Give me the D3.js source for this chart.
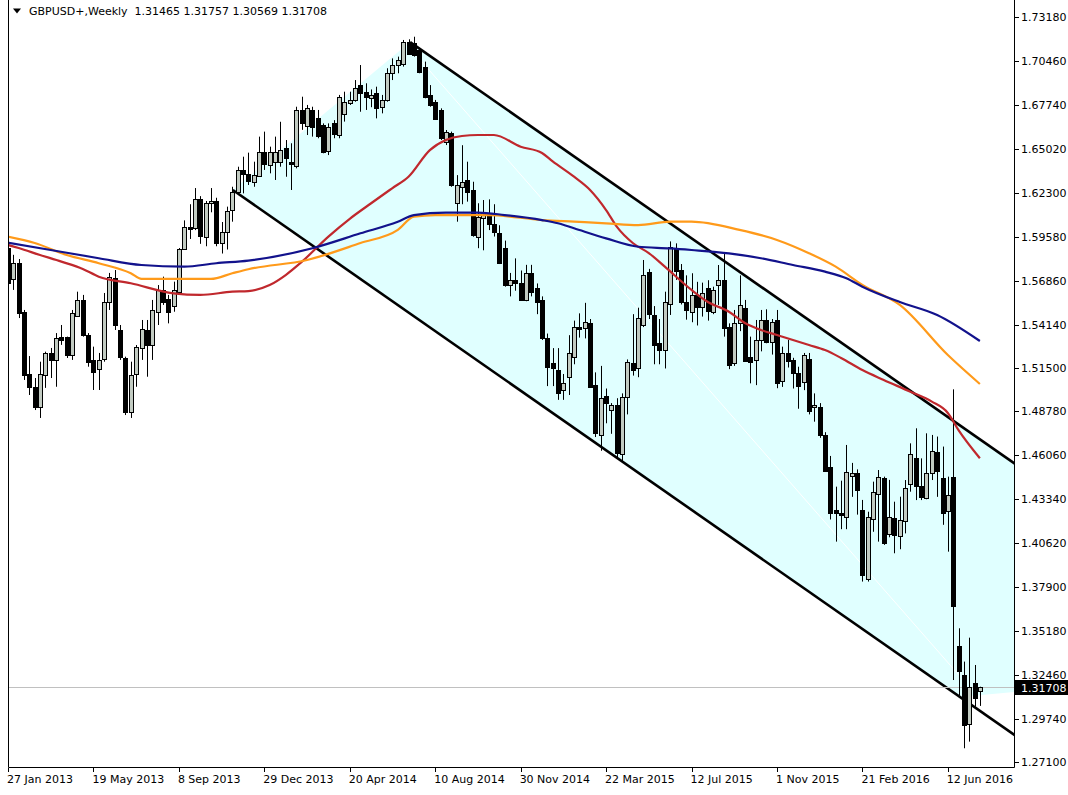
<!DOCTYPE html>
<html>
<head>
<meta charset="utf-8">
<script src="https://cdn.jsdelivr.net/npm/d3@7/dist/d3.min.js"></script>
<style>
body { margin: 0; background: #fff; }
svg { display: block; }
text { font-family: "DejaVu Sans", sans-serif; font-size: 11px; fill: #000; }
</style>
</head>
<body>
<div id="GBPUSDWeekly"></div>
<script>
const container_id = 'GBPUSDWeekly';
const width = 1068, height = 795;
const plot = { left: 8, right: 1014, top: 0, bottom: 767 };

// weekly candles, one per week from 27 Jan 2013
const opens = [1.5889,1.5697,1.5796,1.5495,1.5110,1.5032,1.4908,1.5104,1.5240,1.5197,1.5339,1.5339,1.5227,1.5470,1.5568,1.5351,1.5196,1.5142,1.5203,1.5557,1.5704,1.5382,1.5209,1.4877,1.5112,1.5271,1.5382,1.5289,1.5494,1.5630,1.5574,1.5531,1.5619,1.5885,1.6020,1.6010,1.6190,1.5960,1.6170,1.6180,1.5920,1.5990,
  1.6124,1.6237,1.6372,1.6347,1.6299,1.6335,1.6485,1.6403,1.6423,1.6423,1.6506,1.6423,1.6392,1.6740,1.6640,1.6743,1.6691,1.6650,1.6490,1.6660,1.6590,1.6722,1.6784,1.6804,1.6897,1.6856,1.6815,1.6846,1.6763,1.6804,1.6970,1.7021,1.7032,1.7165,1.7155,1.7114,1.7011,1.6836,1.6794,1.6743,1.6547,1.6599,1.6166,1.6268,1.6310,1.6248,
  1.5959,1.6075,1.6100,1.6040,1.5982,1.5889,1.5660,1.5690,1.5673,1.5568,1.5735,1.5642,1.5568,1.5330,1.5178,1.5135,1.5011,1.5094,1.5215,1.5400,1.5393,1.5425,1.5042,1.4733,1.4974,1.4887,1.4918,1.4620,1.4970,1.5180,1.5145,1.5414,1.5743,1.5475,1.5300,1.5258,1.5547,1.5887,1.5753,1.5557,
  1.5495,1.5600,1.5525,1.5640,1.5495,1.5660,1.5691,1.5403,1.5177,1.5423,1.5516,1.5217,1.5197,1.5320,1.5444,1.5310,1.5444,1.5063,1.5238,1.5196,1.5114,1.5060,1.5200,1.4904,1.4908,1.4733,1.4533,1.4269,1.4250,1.4227,1.4475,1.4496,1.4269,1.3846,1.4217,1.4372,1.4465,1.4124,1.4217,1.4108,1.4196,1.4430,1.4588,1.4417,1.4341,1.4500,1.4630,1.4465,1.4263,
  1.4475,1.3430,1.3248,1.2949,1.3197,1.31465];
const highs = [1.5905,1.5847,1.5821,1.5506,1.5221,1.5085,1.5186,1.5248,1.5271,1.5363,1.5413,1.5341,1.5506,1.5619,1.5599,1.5363,1.5279,1.5240,1.5611,1.5735,1.5753,1.5413,1.5217,1.5186,1.5289,1.5444,1.5444,1.5568,1.5660,1.5712,1.5599,1.5681,1.5889,1.6060,1.6160,1.6260,1.6210,1.6180,1.6260,1.6200,1.6050,1.6145,
  1.6268,1.6392,1.6454,1.6479,1.6423,1.6578,1.6609,1.6516,1.6578,1.6670,1.6557,1.6537,1.6763,1.6825,1.6774,1.6763,1.6743,1.6660,1.6660,1.6680,1.6836,1.6856,1.6856,1.6928,1.7021,1.6908,1.6870,1.6887,1.6836,1.7001,1.7062,1.7073,1.7176,1.7180,1.7196,1.7124,1.7042,1.6897,1.6805,1.6753,1.6619,1.6609,1.6340,1.6525,1.6423,1.6299,
  1.6166,1.6186,1.6190,1.6160,1.6030,1.5935,1.5735,1.5825,1.5750,1.5785,1.5785,1.5670,1.5590,1.5360,1.5270,1.5270,1.5110,1.5350,1.5440,1.5485,1.5550,1.5450,1.5120,1.5160,1.5020,1.4930,1.4960,1.4990,1.5200,1.5480,1.5520,1.5815,1.5760,1.5530,1.5450,1.5619,1.5930,1.5918,1.5790,1.5720,
  1.5733,1.5680,1.5675,1.5690,1.5650,1.5784,1.5861,1.5423,1.5506,1.5720,1.5568,1.5341,1.5444,1.5506,1.5510,1.5450,1.5506,1.5279,1.5321,1.5210,1.5155,1.5240,1.5240,1.4990,1.4930,1.4750,1.4603,1.4413,1.4450,1.4671,1.4560,1.4520,1.4331,1.4258,1.4444,1.4516,1.4475,1.4455,1.4320,1.4351,1.4454,1.4681,1.4774,1.4588,1.4743,1.4733,1.4723,1.4661,1.4475,
  1.5015,1.3537,1.3331,1.3479,1.3310,1.31757];
const lows = [1.5660,1.5630,1.5456,1.5073,1.4980,1.4887,1.4838,1.5024,1.5085,1.5031,1.5290,1.5209,1.5197,1.5464,1.5341,1.5155,1.5011,1.5011,1.5186,1.5506,1.5382,1.5197,1.4856,1.4838,1.5031,1.5197,1.5093,1.5197,1.5413,1.5537,1.5423,1.5495,1.5609,1.5880,1.5945,1.6000,1.5915,1.5900,1.6110,1.5900,1.5855,1.5880,
  1.6052,1.6227,1.6227,1.6279,1.6268,1.6330,1.6372,1.6351,1.6310,1.6392,1.6330,1.6248,1.6382,1.6620,1.6588,1.6578,1.6568,1.6475,1.6464,1.6568,1.6568,1.6671,1.6774,1.6794,1.6732,1.6743,1.6760,1.6691,1.6722,1.6794,1.6928,1.6970,1.7011,1.7089,1.7073,1.6970,1.6815,1.6763,1.6681,1.6557,1.6526,1.6268,1.6052,1.6160,1.6176,1.5959,
  1.5888,1.5875,1.6000,1.5960,1.5790,1.5650,1.5590,1.5625,1.5590,1.5560,1.5590,1.5480,1.5320,1.5035,1.5035,1.4950,1.4950,1.4980,1.5170,1.5335,1.5330,1.5025,1.4720,1.4635,1.4805,1.4740,1.4585,1.4565,1.4860,1.5100,1.5090,1.5400,1.5450,1.5170,1.5170,1.5144,1.5475,1.5692,1.5540,1.5446,
  1.5430,1.5410,1.5465,1.5440,1.5480,1.5537,1.5341,1.5140,1.5160,1.5375,1.5185,1.5052,1.5041,1.5250,1.5300,1.5230,1.5022,1.5030,1.5150,1.5020,1.4895,1.5010,1.4860,1.4815,1.4715,1.4505,1.4210,1.4073,1.4150,1.4150,1.4350,1.4240,1.3826,1.3826,1.4134,1.4073,1.4053,1.4100,1.4001,1.4026,1.4124,1.4382,1.4330,1.4330,1.4335,1.4454,1.4350,1.4177,1.4011,
  1.3217,1.3120,1.2795,1.2836,1.3052,1.30569];
const closes = [1.5673,1.5796,1.5489,1.5104,1.5032,1.4908,1.5110,1.5242,1.5197,1.5333,1.5318,1.5227,1.5489,1.5568,1.5351,1.5186,1.5124,1.5196,1.5557,1.5710,1.5413,1.5217,1.4877,1.5104,1.5279,1.5388,1.5289,1.5506,1.5630,1.5557,1.5495,1.5630,1.5883,1.6020,1.6010,1.6190,1.5960,1.6170,1.6180,1.5920,1.5990,1.6120,
  1.6237,1.6372,1.6347,1.6306,1.6341,1.6485,1.6413,1.6485,1.6485,1.6495,1.6444,1.6413,1.6740,1.6661,1.6753,1.6640,1.6578,1.6485,1.6640,1.6590,1.6825,1.6794,1.6804,1.6877,1.6846,1.6825,1.6835,1.6753,1.6804,1.6970,1.7021,1.7052,1.7165,1.7093,1.7083,1.6980,1.6825,1.6774,1.6691,1.6568,1.6609,1.6279,1.6279,1.6299,1.6237,1.5970,
  1.6083,1.6100,1.6040,1.5990,1.5796,1.5660,1.5690,1.5670,1.5568,1.5735,1.5617,1.5555,1.5333,1.5150,1.5147,1.4993,1.5054,1.5240,1.5400,1.5390,1.5433,1.5029,1.4743,1.4960,1.4929,1.4918,1.4620,1.4970,1.5186,1.5139,1.5454,1.5722,1.5485,1.5289,1.5258,1.5557,1.5897,1.5743,1.5557,1.5506,
  1.5599,1.5525,1.5610,1.5495,1.5630,1.5691,1.5393,1.5165,1.5423,1.5537,1.5186,1.5186,1.5320,1.5444,1.5310,1.5433,1.5052,1.5238,1.5186,1.5114,1.5031,1.5227,1.4880,1.4918,1.4733,1.4512,1.4248,1.4248,1.4240,1.4506,1.4496,1.4392,1.3867,1.4227,1.4382,1.4475,1.4063,1.4227,1.4114,1.4207,1.4403,1.4615,1.4413,1.4351,1.4496,1.4636,1.4512,1.4248,1.4362,
  1.3677,1.3275,1.2939,1.3176,1.3104,1.31708];

// moving averages: [bar, price]
const maRed = [[0,1.5908],[2,1.5889],[6,1.5846],[10,1.5805],[14,1.5760],[17,1.5712],[23,1.5671],[31,1.5609],[36,1.5599],[42,1.5619],[45,1.5623],[49,1.5660],[52,1.5722],[55,1.5803],[60,1.5960],[64,1.6070],[68,1.6166],[72,1.6260],[75,1.6330],[79,1.6495],[82,1.6557],[85,1.6582],[88,1.6588],[91,1.6588],[96,1.6516],[100,1.6477],[102,1.6425],[106,1.6330],[109,1.6248],[112,1.6124],[114,1.6021],[117,1.5920],[120,1.5858],[123,1.5774],[128,1.5630],[131,1.5557],[135,1.5495],[138,1.5425],[141,1.5382],[144,1.5351],[147,1.5320],[150,1.5289],[153,1.5258],[156,1.5209],[160,1.5134],[164,1.5073],[169,1.5000],[173,1.4939],[176,1.4869],[178,1.4763],[182,1.4589]];
const maOrange = [[0,1.5959],[5,1.5920],[11,1.5846],[17,1.5795],[23,1.5733],[25,1.5698],[38,1.5698],[42,1.5733],[45,1.5758],[56,1.5815],[66,1.5920],[73,1.6001],[76,1.6083],[80,1.6093],[90,1.6093],[100,1.6062],[106,1.6052],[112,1.6042],[118,1.6031],[124,1.6052],[128,1.6052],[137,1.6001],[144,1.5939],[150,1.5857],[155,1.5774],[160,1.5661],[167,1.5537],[176,1.5227],[182,1.5048]];
const maBlue = [[0,1.5922],[8,1.5877],[17,1.5826],[25,1.5784],[33,1.5774],[39,1.5795],[45,1.5811],[57,1.5888],[66,1.5980],[73,1.6052],[76,1.6093],[82,1.6108],[88,1.6108],[93,1.6093],[100,1.6062],[103,1.6042],[106,1.6011],[112,1.5949],[118,1.5897],[124,1.5887],[128,1.5877],[135,1.5856],[141,1.5826],[147,1.5784],[153,1.5743],[157,1.5702],[160,1.5650],[167,1.5555],[174,1.5475],[182,1.5314]];

// channel anchors [bar, price] and slope per bar
const channelLowerStart = [42.1, 1.6248];
const channelUpperStart = [75.3, 1.7163];
const channelSlope = -0.002303;
const channelEndBar = 188.4;
const channelFillCut = [[178.3, null], [188.4, 1.3143]];
const faintLine = [[75.3, 1.7124], [178, 1.3250]];

const timeTickBars = [0,16,32,48,64,80,96,112,128,144,160,176];
const timeTickLabels = ['27 Jan 2013','19 May 2013','8 Sep 2013','29 Dec 2013','20 Apr 2014','10 Aug 2014','30 Nov 2014','22 Mar 2015','12 Jul 2015','1 Nov 2015','21 Feb 2016','12 Jun 2016'];
const priceTicks = [1.73180,1.70460,1.67740,1.65020,1.62300,1.59580,1.56860,1.54140,1.51500,1.48780,1.46060,1.43340,1.40620,1.37900,1.35180,1.32460,1.29740,1.27100];
const lastPrice = 1.31708;
const headerText = 'GBPUSD+,Weekly  1.31465 1.31757 1.30569 1.31708';

const xScale = d3.scaleLinear().domain([0, 182]).range([8, 8 + 182 * 5.34]);
const yScale = d3.scaleLinear().domain([1.27100, 1.73180]).range([762, 17]);

const candles = opens.map((o, i) => ({ i: i, o: o, h: highs[i], l: lows[i], c: closes[i] }));

const svg = d3.select('#' + container_id)
    .append('svg')
    .attr('width', width)
    .attr('height', height);

svg.append('defs').append('clipPath').attr('id', 'plotclip')
    .append('rect')
    .attr('x', plot.left + 1).attr('y', plot.top)
    .attr('width', plot.right - plot.left - 1).attr('height', plot.bottom - plot.top);

const g = svg.append('g').attr('clip-path', 'url(#plotclip)');

// channel
const lowerAt = b => channelLowerStart[1] + channelSlope * (b - channelLowerStart[0]);
const upperAt = b => channelUpperStart[1] + channelSlope * (b - channelUpperStart[0]);
const fillPts = [
    [channelLowerStart[0], lowerAt(channelLowerStart[0])],
    [channelFillCut[0][0], lowerAt(channelFillCut[0][0])],
    [channelFillCut[1][0], channelFillCut[1][1]],
    [channelEndBar, upperAt(channelEndBar)],
    [channelUpperStart[0], upperAt(channelUpperStart[0])]
];
g.append('path')
    .attr('d', d3.line().x(d => xScale(d[0])).y(d => yScale(d[1]))(fillPts) + 'Z')
    .attr('fill', '#E0FFFF');

g.append('line')
    .attr('x1', xScale(faintLine[0][0])).attr('y1', yScale(faintLine[0][1]))
    .attr('x2', xScale(faintLine[1][0])).attr('y2', yScale(faintLine[1][1]))
    .attr('stroke', '#fff').attr('stroke-width', 1);

[[channelLowerStart[0], lowerAt], [channelUpperStart[0], upperAt]].forEach(function(ch) {
    g.append('line')
        .attr('x1', xScale(ch[0])).attr('y1', yScale(ch[1](ch[0])))
        .attr('x2', xScale(channelEndBar + 2)).attr('y2', yScale(ch[1](channelEndBar + 2)))
        .attr('stroke', '#000').attr('stroke-width', 2.6);
});

// last price line
g.append('line')
    .attr('x1', plot.left).attr('x2', plot.right)
    .attr('y1', Math.round(yScale(lastPrice)) + 0.5).attr('y2', Math.round(yScale(lastPrice)) + 0.5)
    .attr('stroke', '#C0C0C0').attr('stroke-width', 1);

// candles
const cg = g.append('g');
cg.selectAll('line.wick')
    .data(candles)
    .enter()
    .append('line')
    .attr('class', 'wick')
    .attr('x1', d => Math.round(xScale(d.i)) + 0.5)
    .attr('x2', d => Math.round(xScale(d.i)) + 0.5)
    .attr('y1', d => yScale(d.h))
    .attr('y2', d => yScale(d.l))
    .attr('stroke', '#000').attr('stroke-width', 1);
cg.selectAll('rect.body')
    .data(candles)
    .enter()
    .append('rect')
    .attr('class', 'body')
    .attr('x', d => Math.round(xScale(d.i)) - 1.5)
    .attr('width', 4)
    .attr('y', d => Math.round(yScale(Math.max(d.o, d.c))) + 0.5)
    .attr('height', d => Math.max(1, Math.round(Math.abs(yScale(d.o) - yScale(d.c)))))
    .attr('fill', d => d.c >= d.o ? '#C2CBC2' : '#000')
    .attr('stroke', '#000').attr('stroke-width', 1);

// moving averages
const maLine = d3.line().x(d => xScale(d[0])).y(d => yScale(d[1])).curve(d3.curveMonotoneX);
[[maRed, '#C0282D'], [maOrange, '#FF9A1A'], [maBlue, '#12128C']].forEach(function(m) {
    g.append('path')
        .attr('d', maLine(m[0]))
        .attr('fill', 'none')
        .attr('stroke', m[1])
        .attr('stroke-width', 2.2);
});

// frame
svg.append('path')
    .attr('d', 'M' + (plot.left + 0.5) + ',0V' + (plot.bottom + 0.5) + 'H' + (plot.right + 0.5) + 'V0')
    .attr('fill', 'none').attr('stroke', '#000').attr('stroke-width', 1);

// price axis
const yAxis = svg.append('g');
yAxis.selectAll('line')
    .data(priceTicks)
    .enter()
    .append('line')
    .attr('x1', plot.right + 1).attr('x2', plot.right + 5)
    .attr('y1', d => Math.round(yScale(d)) + 0.5).attr('y2', d => Math.round(yScale(d)) + 0.5)
    .attr('stroke', '#000');
yAxis.selectAll('text')
    .data(priceTicks)
    .enter()
    .append('text')
    .attr('x', plot.right + 7)
    .attr('y', d => yScale(d) + 4)
    .text(d => d3.format('.5f')(d));

svg.append('rect')
    .attr('x', plot.right + 1).attr('y', Math.round(yScale(lastPrice)) - 7)
    .attr('width', width - plot.right - 1).attr('height', 15)
    .attr('fill', '#000');
svg.append('text')
    .attr('x', plot.right + 7).attr('y', yScale(lastPrice) + 4.5)
    .style('fill', '#fff')
    .text(d3.format('.5f')(lastPrice));

// time axis
const xAxis = svg.append('g');
xAxis.selectAll('line')
    .data(timeTickBars)
    .enter()
    .append('line')
    .attr('x1', d => Math.round(xScale(d)) + 0.5).attr('x2', d => Math.round(xScale(d)) + 0.5)
    .attr('y1', plot.bottom + 1).attr('y2', plot.bottom + 5)
    .attr('stroke', '#000');
xAxis.selectAll('text')
    .data(timeTickBars)
    .enter()
    .append('text')
    .attr('x', d => xScale(d) - 1)
    .attr('y', 783)
    .text((d, i) => timeTickLabels[i]);

// header
svg.append('path').attr('d', 'M13,8.5H21L17,13.5Z').attr('fill', '#000');
svg.append('text').attr('x', 29).attr('y', 15).text(headerText).attr('xml:space', 'preserve').style('white-space', 'pre');
</script>
</body>
